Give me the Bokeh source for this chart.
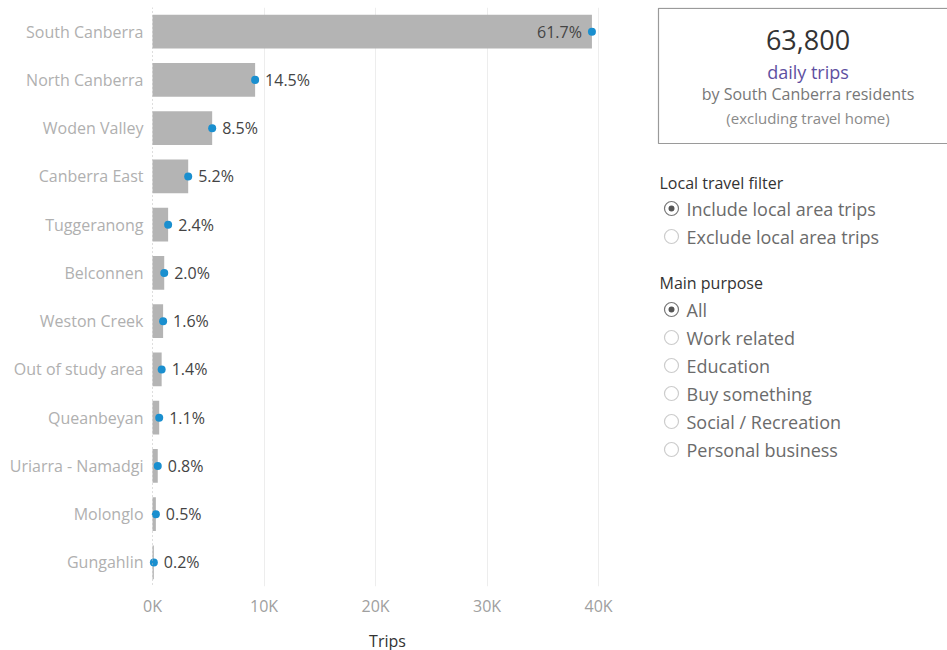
from bokeh.plotting import figure
from bokeh.models import ColumnDataSource, FactorRange, Range1d, Span, FixedTicker, CustomJSTickFormatter
from bokeh.layouts import row
from bokeh.embed import file_html
from bokeh.resources import INLINE
from bokeh.core.properties import value

# ---------------- data ----------------
regions = ["South Canberra", "North Canberra", "Woden Valley", "Canberra East", "Tuggeranong",
           "Belconnen", "Weston Creek", "Out of study area", "Queanbeyan", "Uriarra - Namadgi",
           "Molonglo", "Gungahlin"]
trips = [39400, 9200, 5350, 3200, 1400, 1050, 950, 820, 600, 470, 300, 120]
shares = ["61.7%", "14.5%", "8.5%", "5.2%", "2.4%", "2.0%", "1.6%", "1.4%", "1.1%", "0.8%", "0.5%", "0.2%"]
x_ticks = [0, 10000, 20000, 30000, 40000]
grid_ticks = [10000, 20000, 30000, 40000]

total_trips = "63,800"
kpi_lines = ["daily trips", "by South Canberra residents", "(excluding travel home)"]
filter1_title = "Local travel filter"
filter1_options = ["Include local area trips", "Exclude local area trips"]
filter1_selected = 0
filter2_title = "Main purpose"
filter2_options = ["All", "Work related", "Education", "Buy something", "Social / Recreation", "Personal business"]
filter2_selected = 0

FONT = "Open Sans"
TOP, FRAME_H, BOTTOM = 7, 579, 60

# ---------------- bar chart ----------------
factors = list(reversed(regions))
p = figure(y_range=FactorRange(factors=factors, range_padding=0),
           x_range=Range1d(-360, 42500),
           frame_width=478, frame_height=FRAME_H,
           min_border_left=148, min_border_right=22, min_border_top=TOP, min_border_bottom=BOTTOM,
           output_backend="svg", toolbar_location=None)
p.outline_line_color = None
p.ygrid.grid_line_color = None
p.xgrid.ticker = FixedTicker(ticks=grid_ticks)
p.xgrid.grid_line_color = "#ededed"
p.xgrid.grid_line_width = 1

src = ColumnDataSource(dict(region=regions, trips=trips, share=shares))
p.hbar(y="region", right="trips", left=0, height=0.7, source=src,
       fill_color="#b4b4b4", line_color=None)

zero = Span(location=0, dimension="height", line_color="#bdbdbd", line_dash="1 3", line_width=1)
p.add_layout(zero)

p.scatter(x="trips", y="region", source=src, size=8, fill_color="#1a8fcf", line_color=None)

inside = ColumnDataSource(dict(region=regions[:1], trips=trips[:1], share=shares[:1]))
outside = ColumnDataSource(dict(region=regions[1:], trips=trips[1:], share=shares[1:]))
p.text(x="trips", y="region", text="share", source=outside, x_offset=10,
       text_align="left", text_baseline="middle", text_font=value(FONT),
       text_font_size="16px", text_color="#444444")
p.text(x="trips", y="region", text="share", source=inside, x_offset=-10,
       text_align="right", text_baseline="middle", text_font=value(FONT),
       text_font_size="16px", text_color="#444444")

p.xaxis.ticker = FixedTicker(ticks=x_ticks)
p.xaxis.formatter = CustomJSTickFormatter(code="return (tick/1000).toFixed(0) + 'K';")
p.xaxis.axis_line_color = None
p.xaxis.major_tick_line_color = None
p.xaxis.minor_tick_line_color = None
p.xaxis.major_tick_out = 0
p.xaxis.major_label_standoff = 8
p.xaxis.major_label_text_font = FONT
p.xaxis.major_label_text_font_size = "16px"
p.xaxis.major_label_text_color = "#a0a0a0"
p.xaxis.axis_label = "Trips"
p.xaxis.axis_label_text_font = FONT
p.xaxis.axis_label_text_font_size = "16px"
p.xaxis.axis_label_text_font_style = "normal"
p.xaxis.axis_label_text_color = "#333333"
p.xaxis.axis_label_standoff = 10

p.yaxis.axis_line_color = None
p.yaxis.major_tick_line_color = None
p.yaxis.minor_tick_line_color = None
p.yaxis.major_tick_out = 0
p.yaxis.major_label_standoff = 5
p.yaxis.major_label_text_font = FONT
p.yaxis.major_label_text_font_size = "16px"
p.yaxis.major_label_text_color = "#b0b0b0"

# ---------------- side panel (data units == page pixels) ----------------
W2 = 299
q = figure(frame_width=W2, frame_height=FRAME_H,
           x_range=Range1d(0, W2), y_range=Range1d(TOP + FRAME_H, TOP),
           x_axis_location=None, y_axis_location=None,
           min_border_left=0, min_border_right=0, min_border_top=TOP, min_border_bottom=BOTTOM,
           output_backend="svg", toolbar_location=None)
q.grid.grid_line_color = None
q.outline_line_color = None

box_l, box_r, box_t, box_b = 10, 309, 7.8, 143
q.quad(left=[box_l], right=[box_r], top=[box_t], bottom=[box_b],
       fill_color=None, line_color="#9a9a9a", line_width=1.2)
cx = (box_l + box_r) / 2
q.text(x=[cx], y=[39], text=[total_trips], text_align="center", text_baseline="middle",
       text_font=value(FONT), text_font_size="27px", text_color="#333333")
kpi_y = [71, 93, 117]
kpi_colors = ["#5e50a1", "#777777", "#8a8a8a"]
kpi_sizes = ["18px", "16px", "15px"]
for t, yy, c, s in zip(kpi_lines, kpi_y, kpi_colors, kpi_sizes):
    q.text(x=[cx], y=[yy], text=[t], text_align="center", text_baseline="middle",
           text_font=value(FONT), text_font_size=s, text_color=c)


def radio_group(title, options, selected, y_title, y0, step=28):
    q.text(x=[11], y=[y_title], text=[title], text_align="left", text_baseline="middle",
           text_font=value(FONT), text_font_size="16px", text_color="#333333")
    ys = [y0 + i * step for i in range(len(options))]
    cols = ["#777777" if i == selected else "#cccccc" for i in range(len(options))]
    q.scatter(x=[23] * len(options), y=ys, size=14, fill_color="white",
              line_color=cols, line_width=1.2)
    q.scatter(x=[23], y=[ys[selected]], size=6, fill_color="#555555", line_color=None)
    q.text(x=[38] * len(options), y=ys, text=options, text_align="left", text_baseline="middle",
           text_font=value(FONT), text_font_size="18px", text_color="#6b6b6b")


radio_group(filter1_title, filter1_options, filter1_selected, 182, 208)
radio_group(filter2_title, filter2_options, filter2_selected, 282, 309)

layout = row(p, q)
open("out.html", "w").write(file_html(layout, INLINE))
